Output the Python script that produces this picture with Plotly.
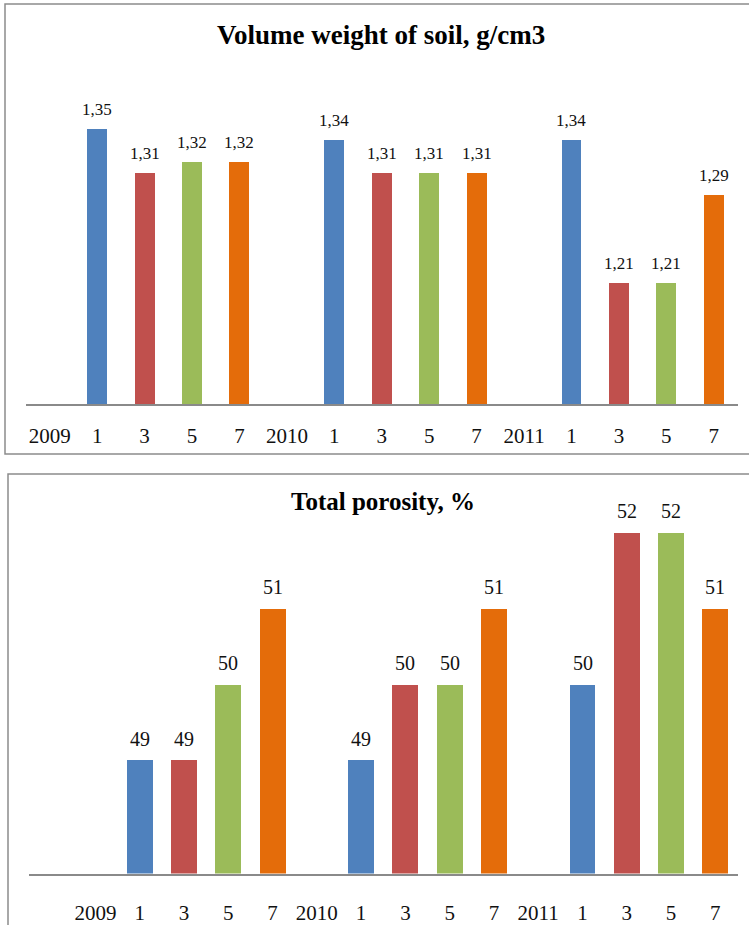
import plotly.graph_objects as go

# ---- data ----
labels = ["2009", "1", "3", "5", "7", "2010", "1", "3", "5", "7", "2011", "1", "3", "5", "7"]
volume_weight = [None, 1.35, 1.31, 1.32, 1.32, None, 1.34, 1.31, 1.31, 1.31, None, 1.34, 1.21, 1.21, 1.29]
porosity = [None, 49, 49, 50, 51, None, 49, 50, 50, 51, None, 50, 52, 52, 51]
title_top = "Volume weight of soil, g/cm3"
title_bottom = "Total porosity, %"

palette = {"1": "#4F81BD", "3": "#C0504D", "5": "#9BBB59", "7": "#E46C0A"}
W, H = 749, 925
FONT = "Liberation Serif"

xs = list(range(len(labels)))
colors = [palette.get(l, "rgba(0,0,0,0)") for l in labels]

def px_x(p):
    return p / W

def px_y(p):
    return 1 - p / H

fig = go.Figure()
fig.add_trace(go.Bar(x=xs, y=volume_weight, marker=dict(color=colors, line=dict(width=0)),
                     width=0.42, xaxis="x", yaxis="y", hoverinfo="skip", showlegend=False))
fig.add_trace(go.Bar(x=xs, y=porosity, marker=dict(color=colors, line=dict(width=0)),
                     width=0.585, xaxis="x2", yaxis="y2", hoverinfo="skip", showlegend=False))

annotations = []
for x, v in zip(xs, volume_weight):
    if v is not None:
        annotations.append(dict(x=x, y=v, xref="x", yref="y", text=f"{v:.2f}".replace(".", ","),
                                showarrow=False, yanchor="bottom", yshift=8,
                                font=dict(family=FONT, size=17, color="#111111")))
for x, v in zip(xs, porosity):
    if v is not None:
        annotations.append(dict(x=x, y=v, xref="x2", yref="y2", text=f"{v:.0f}",
                                showarrow=False, yanchor="bottom", yshift=8,
                                font=dict(family=FONT, size=20, color="#111111")))
annotations.append(dict(x=px_x(381), y=px_y(35), xref="paper", yref="paper", text=f"<b>{title_top}</b>",
                        showarrow=False, xanchor="center", yanchor="middle",
                        font=dict(family=FONT, size=27, color="#000000")))
annotations.append(dict(x=px_x(383), y=px_y(505), xref="paper", yref="paper", text=f"<b>{title_bottom}</b>",
                        showarrow=False, xanchor="center", yanchor="middle",
                        font=dict(family=FONT, size=25, color="#000000")))

axis_common = dict(tickmode="array", tickvals=xs, ticktext=labels, showgrid=False, zeroline=False,
                   showline=True, linecolor="#8a8a8a", linewidth=1.5, ticks="",
                   tickfont=dict(family=FONT, size=21, color="#111111"), fixedrange=True)

shapes = [
    dict(type="rect", xref="paper", yref="paper", x0=px_x(5), x1=px_x(760), y0=px_y(457), y1=px_y(4),
         line=dict(color="#8c8c8c", width=1.5), fillcolor="rgba(0,0,0,0)", layer="below"),
    dict(type="rect", xref="paper", yref="paper", x0=px_x(8), x1=px_x(760), y0=px_y(940), y1=px_y(477),
         line=dict(color="#8c8c8c", width=1.5), fillcolor="rgba(0,0,0,0)", layer="below"),
]

fig.update_layout(
    width=W, height=H, margin=dict(l=0, r=0, t=0, b=0),
    paper_bgcolor="white", plot_bgcolor="rgba(0,0,0,0)",
    xaxis=dict(domain=[px_x(26), px_x(737.5)], range=[-0.5, 14.5], anchor="y",
               ticklabelstandoff=12, **axis_common),
    yaxis=dict(domain=[px_y(407), px_y(74.6)], range=[1.10, 1.40], visible=False, fixedrange=True),
    xaxis2=dict(domain=[px_x(29), px_x(737.5)], range=[-1.5, 14.5], anchor="y2",
                ticklabelstandoff=19, **axis_common),
    yaxis2=dict(domain=[px_y(879.3), px_y(497.8)], range=[47.5, 52.5], visible=False, fixedrange=True),
    annotations=annotations, shapes=shapes, bargap=0,
)

post = (
    "document.documentElement.style.margin='0';"
    "document.documentElement.style.overflow='hidden';"
    "document.body.style.margin='0';"
    "document.body.style.overflow='hidden';"
    "var d=document.getElementById('{plot_id}');"
    "d.style.display='block';"
    "if(d.parentElement){d.parentElement.style.height='925px';d.parentElement.style.overflow='hidden';}"
)
fig.write_html("out.html", config={"displayModeBar": False}, post_script=post)
